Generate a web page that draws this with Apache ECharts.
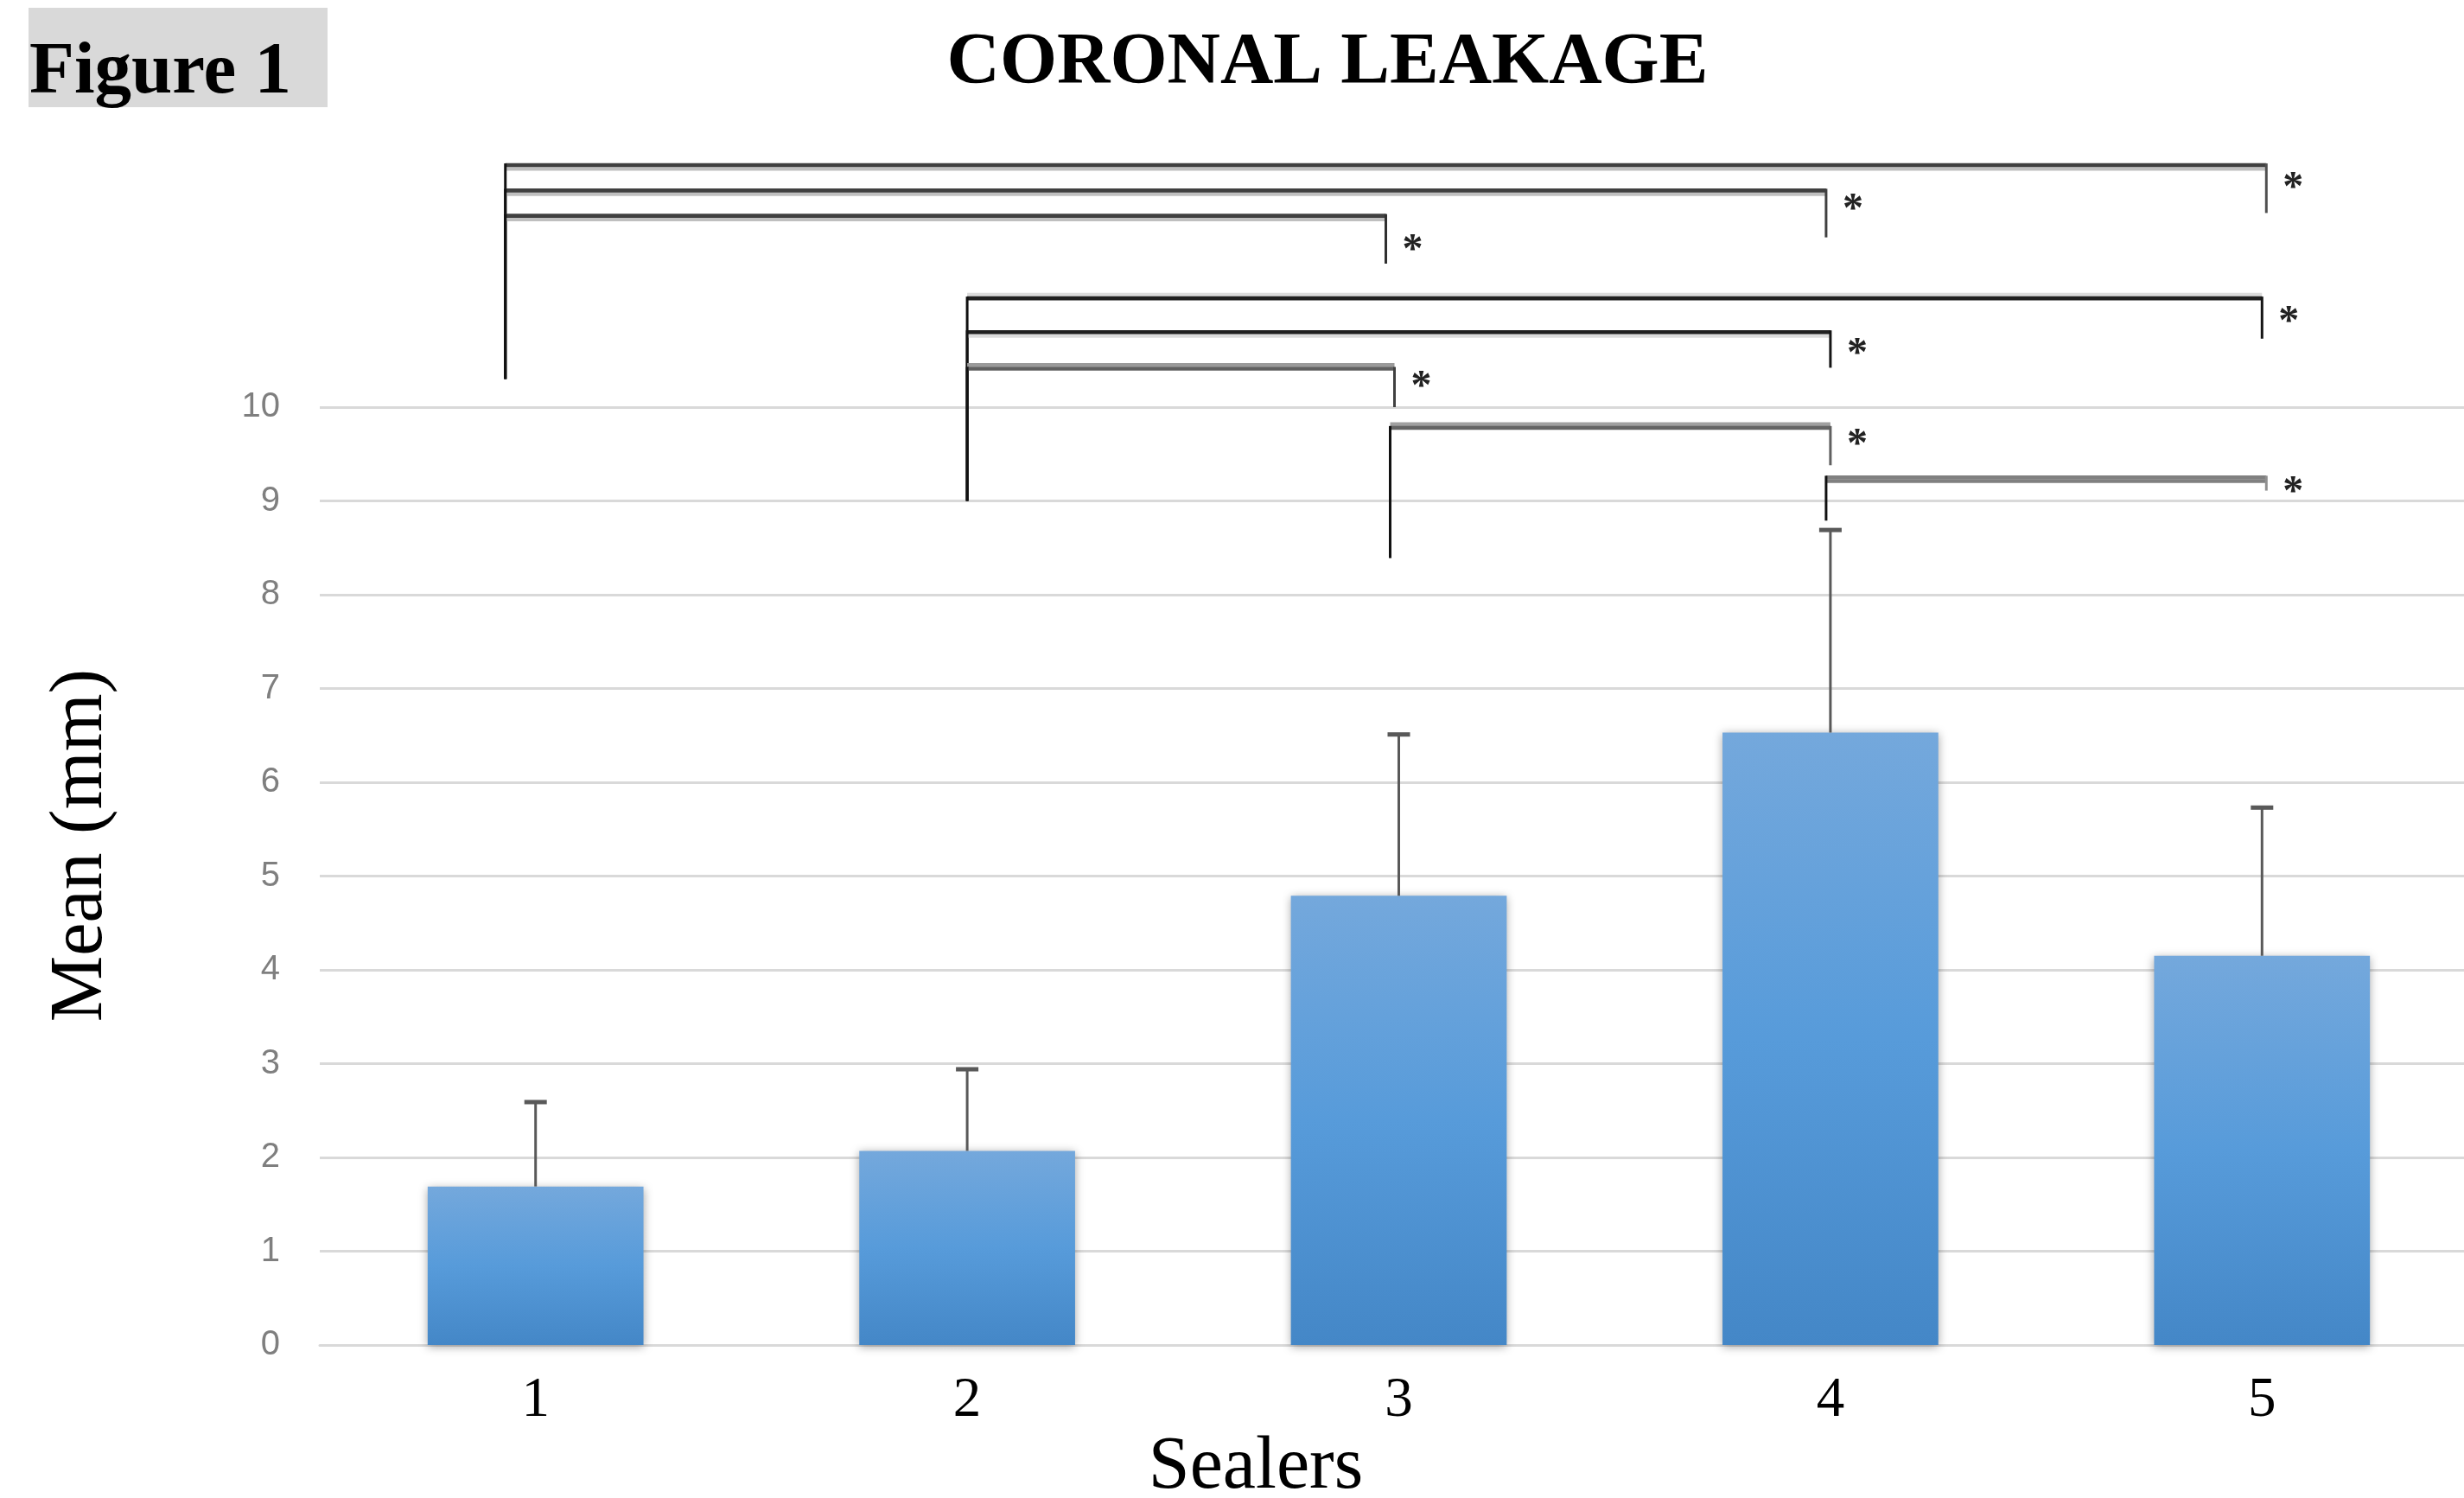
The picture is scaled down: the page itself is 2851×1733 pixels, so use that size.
<!DOCTYPE html>
<html><head><meta charset="utf-8">
<script src="https://cdn.jsdelivr.net/npm/echarts@6/dist/echarts.min.js"></script>
<style>html,body{margin:0;padding:0;background:#fff}#c{width:2851px;height:1733px}</style>
</head><body><div id="c"></div>
<script>
// ---- data ----
const categories = ['1', '2', '3', '4', '5'];
const means = [1.69, 2.07, 4.79, 6.53, 4.15];
const sdUpper = [0.90, 0.87, 1.72, 2.16, 1.58];
const yTickMin = 0, yTickMax = 10, yTickStep = 1;

// significance brackets (category positions / value levels)
const bracketFrom       = [-0.07, -0.07, -0.07, 1.00, 1.00, 1.00, 1.98, 2.99];
const bracketTo         = [4.01, 2.99, 1.97, 4.00, 3.00, 1.99, 3.00, 4.01];
const bracketTop        = [12.58, 12.31, 12.04, 11.16, 10.80, 10.41, 9.78, 9.25];
const bracketFromBottom = [10.30, 10.30, 10.30, 9.00, 9.00, 9.00, 8.39, 8.79];
const bracketToBottom   = [12.07, 11.81, 11.53, 10.73, 10.42, 10.00, 9.38, 9.11];
const starLevel         = [12.39, 12.16, 11.73, 10.96, 10.62, 10.27, 9.65, 9.15];
const starText          = ['*', '*', '*', '*', '*', '*', '*', '*'];

// ---- styles ----
const bracketStyle = [
  {dark: '#404040', light: '#bfbfbf', shade: 1, drop: '#505050'},
  {dark: '#404040', light: '#bfbfbf', shade: 1, drop: '#404040'},
  {dark: '#404040', light: '#bfbfbf', shade: 1, drop: '#303030'},
  {dark: '#202020', light: '#dcdcdc', shade: -1, drop: '#151515'},
  {dark: '#202020', light: '#dcdcdc', shade: 1, drop: '#151515'},
  {dark: '#606060', light: '#9a9a9a', shade: -1, drop: '#404040'},
  {dark: '#646464', light: '#a0a0a0', shade: -1, drop: '#606060'},
  {dark: '#808080', light: '#808080', shade: 1, drop: '#909090'}
];

const chart = echarts.init(document.getElementById('c'), null, {renderer: 'canvas'});

function renderBracket(params, api) {
  const i = params.dataIndex;
  const st = bracketStyle[i];
  const pL = api.coord([bracketFrom[i], bracketTop[i]]);
  const pR = api.coord([bracketTo[i], bracketTop[i]]);
  const pLB = api.coord([bracketFrom[i], bracketFromBottom[i]]);
  const pRB = api.coord([bracketTo[i], bracketToBottom[i]]);
  const pS = api.coord([bracketTo[i], starLevel[i]]);
  return {
    type: 'group',
    children: [
      {type: 'line', shape: {x1: pL[0], y1: pL[1] + st.shade * 4.3, x2: pR[0], y2: pR[1] + st.shade * 4.3},
        style: {stroke: st.light, lineWidth: 4.3}},
      {type: 'line', shape: {x1: pL[0], y1: pL[1], x2: pR[0], y2: pR[1]},
        style: {stroke: st.dark, lineWidth: 4.6}},
      {type: 'line', shape: {x1: pL[0], y1: pL[1] - 2, x2: pLB[0], y2: pLB[1]},
        style: {stroke: '#111', lineWidth: 3}},
      {type: 'line', shape: {x1: pR[0], y1: pR[1] - 2, x2: pRB[0], y2: pRB[1]},
        style: {stroke: st.drop, lineWidth: 3}},
      {type: 'text', x: pS[0] + 31, y: pS[1] + 7,
        style: {text: starText[i], font: 'bold 48px "Liberation Serif"', fill: '#222',
          align: 'center', verticalAlign: 'middle'}}
    ]
  };
}

function renderError(params, api) {
  const i = params.dataIndex;
  const base = api.coord([i, means[i]]);
  const top = api.coord([i, means[i] + sdUpper[i]]);
  return {
    type: 'group',
    children: [
      {type: 'line', shape: {x1: base[0], y1: base[1], x2: top[0], y2: top[1]},
        style: {stroke: '#595959', lineWidth: 3}},
      {type: 'line', shape: {x1: top[0] - 13, y1: top[1], x2: top[0] + 13, y2: top[1]},
        style: {stroke: '#595959', lineWidth: 5}}
    ]
  };
}

const option = {
  animation: false,
  backgroundColor: '#ffffff',
  grid: {left: 370, top: 471, width: 2497, bottom: 177, containLabel: false, outerBoundsMode: 'none'},
  xAxis: [
    {
      type: 'category', data: categories, boundaryGap: true,
      axisLine: {show: true, lineStyle: {color: '#d9d9d9', width: 3}},
      axisTick: {show: false},
      axisLabel: {fontFamily: 'Liberation Serif', fontSize: 65, color: '#000', margin: 32},
      splitLine: {show: false}
    },
    {type: 'value', min: -0.5, max: 4.5, show: false, splitLine: {show: false}}
  ],
  yAxis: {
    type: 'value', min: yTickMin, max: yTickMax, interval: yTickStep,
    axisLine: {show: false}, axisTick: {show: false},
    axisLabel: {fontFamily: 'Liberation Sans', fontSize: 40, color: '#7f7f7f', margin: 46},
    splitLine: {lineStyle: {color: '#d9d9d9', width: 3}}
  },
  graphic: [
    {type: 'rect', left: 33, top: 9, shape: {width: 346, height: 115}, style: {fill: '#d9d9d9'}, z: 0},
    {type: 'text', x: 34, y: 85, z: 1,
      style: {text: 'Figure 1', font: 'bold 85px "Liberation Serif"', fill: '#000', align: 'left', verticalAlign: 'middle'}},
    {type: 'text', x: 1536, y: 74,
      style: {text: 'CORONAL LEAKAGE', font: 'bold 85px "Liberation Serif"', fill: '#000', align: 'center', verticalAlign: 'middle'}},
    {type: 'text', x: 94, y: 978, rotation: Math.PI / 2,
      style: {text: 'Mean (mm)', font: '86px "Liberation Serif"', fill: '#000', align: 'center', verticalAlign: 'middle'}},
    {type: 'text', x: 1453, y: 1698,
      style: {text: 'Sealers', font: '86px "Liberation Serif"', fill: '#000', align: 'center', verticalAlign: 'middle'}}
  ],
  series: [
    {
      type: 'bar', xAxisIndex: 0, yAxisIndex: 0, data: means, barWidth: '50%',
      itemStyle: {
        color: new echarts.graphic.LinearGradient(0, 0, 0, 1, [
          {offset: 0, color: '#74a8dc'},
          {offset: 0.5, color: '#579bda'},
          {offset: 1, color: '#4487c7'}
        ]),
        shadowColor: 'rgba(0,0,0,0.35)', shadowBlur: 10, shadowOffsetY: 2
      },
      z: 2
    },
    {
      type: 'custom', xAxisIndex: 1, yAxisIndex: 0, z: 5, clip: false,
      data: means.map((m, i) => [i, m + sdUpper[i]]),
      renderItem: renderError
    },
    {
      type: 'custom', xAxisIndex: 1, yAxisIndex: 0, z: 6, clip: false,
      data: bracketFrom.map((f, i) => [f, bracketTop[i]]),
      renderItem: renderBracket
    }
  ]
};
chart.setOption(option);
</script>
</body></html>
